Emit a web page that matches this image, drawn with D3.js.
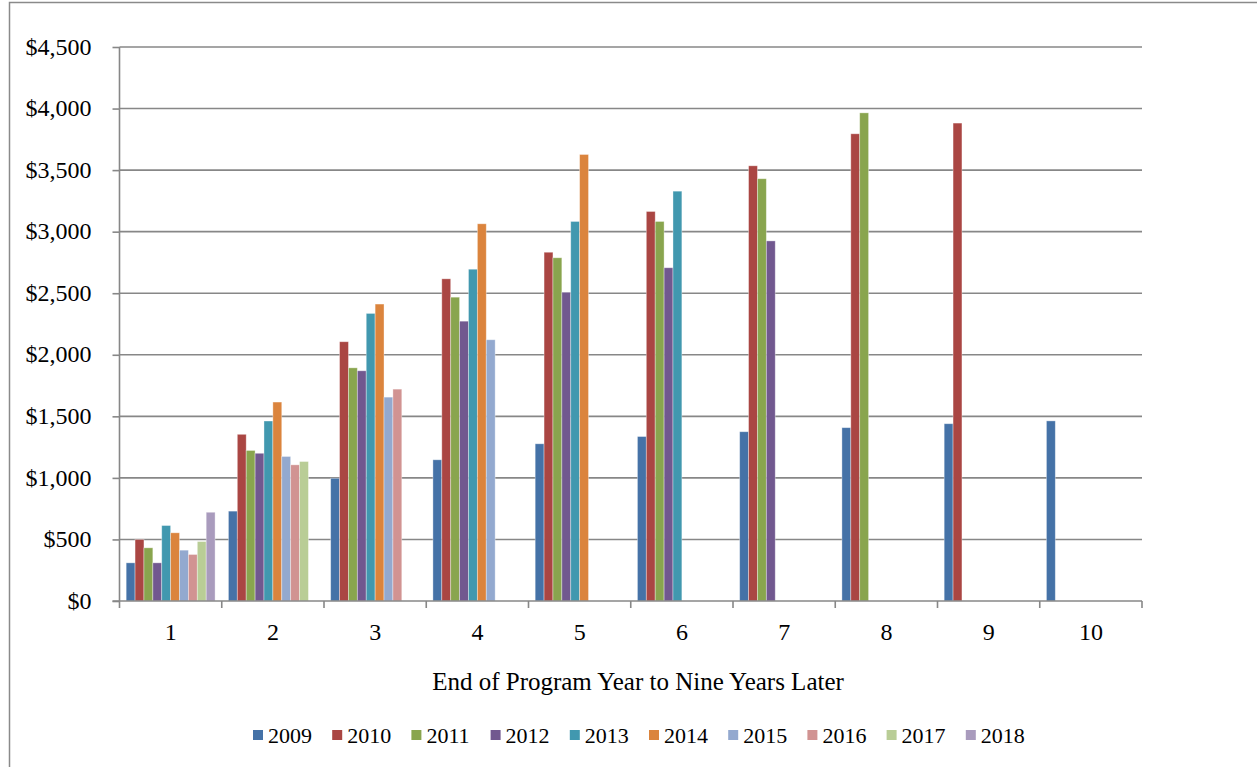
<!DOCTYPE html>
<html>
<head>
<meta charset="utf-8">
<script src="https://cdn.jsdelivr.net/npm/d3@7"></script>
<style>
  html, body { margin: 0; padding: 0; background: #fff; }
  svg { display: block; }
  text { font-family: "Liberation Serif", "Times New Roman", serif; fill: #000; }
</style>
</head>
<body>
<svg id="chart" width="1257" height="767"></svg>
<script>
// Program years since end of program (x categories)
const categories = ["1", "2", "3", "4", "5", "6", "7", "8", "9", "10"];

// Cohort series (one value per category, null where no data yet)
const seriesNames = ["2009", "2010", "2011", "2012", "2013", "2014", "2015", "2016", "2017", "2018"];
const v2009 = [310, 730, 997, 1147, 1277, 1336, 1375, 1408, 1440, 1463];
const v2010 = [500, 1354, 2106, 2617, 2833, 3164, 3535, 3795, 3882, null];
const v2011 = [432, 1223, 1894, 2468, 2788, 3083, 3430, 3965, null, null];
const v2012 = [310, 1200, 1870, 2273, 2508, 2707, 2925, null, null, null];
const v2013 = [613, 1462, 2336, 2695, 3083, 3329, null, null, null, null];
const v2014 = [554, 1616, 2412, 3064, 3627, null, null, null, null, null];
const v2015 = [413, 1174, 1656, 2122, null, null, null, null, null, null];
const v2016 = [378, 1106, 1721, null, null, null, null, null, null, null];
const v2017 = [483, 1133, null, null, null, null, null, null, null, null];
const v2018 = [721, null, null, null, null, null, null, null, null, null];
const seriesValues = [v2009, v2010, v2011, v2012, v2013, v2014, v2015, v2016, v2017, v2018];
const seriesColors = ["#4572A7", "#AA4643", "#89A54E", "#71588F", "#4198AF",
                      "#DB843D", "#93A9CF", "#D19392", "#B9CD96", "#A99BBD"];

const yTicks = [0, 500, 1000, 1500, 2000, 2500, 3000, 3500, 4000, 4500];
const xTitle = "End of Program Year to Nine Years Later";

const svg = d3.select("#chart");
const serif = '"Liberation Serif", "Times New Roman", serif';
const gridColor = "#878787";

// Outer frame
svg.append("rect")
  .attr("x", 9.5).attr("y", 2.5)
  .attr("width", 1300).attr("height", 800)
  .attr("fill", "none").attr("stroke", "#8a8a8a").attr("stroke-width", 1.5);

const plot = { left: 119.5, right: 1142, top: 47, bottom: 601 };

const x = d3.scaleBand().domain(categories).range([plot.left, plot.right]).padding(0);
const xs = d3.scaleBand().domain(seriesNames).range([0, x.bandwidth()])
  .paddingInner(0).paddingOuter(0.75);
const y = d3.scaleLinear().domain([0, 4500]).range([plot.bottom, plot.top]);

// Horizontal gridlines
svg.append("g").selectAll("line")
  .data(yTicks.filter(d => d > 0))
  .join("line")
  .attr("x1", plot.left).attr("x2", plot.right)
  .attr("y1", d => y(d)).attr("y2", d => y(d))
  .attr("stroke", gridColor).attr("stroke-width", 1.6);

// Y axis
const yAxis = d3.axisLeft(y).tickValues(yTicks).tickSize(7)
  .tickFormat(d => "$" + d3.format(",")(d));
const gy = svg.append("g").attr("transform", `translate(${plot.left},0)`).call(yAxis);
gy.attr("font-family", serif);
gy.select(".domain").attr("stroke", gridColor).attr("stroke-width", 1.6)
  .attr("d", `M0,${plot.top}V${plot.bottom}`);
gy.selectAll(".tick line").attr("stroke", gridColor).attr("stroke-width", 1.6);
gy.selectAll(".tick text")
  .attr("x", -28).attr("dy", "0.3em")
  .style("font-size", "24px")
  .attr("fill", "#000");

// Bars
const groups = svg.append("g").selectAll("g")
  .data(seriesNames)
  .join("g")
  .attr("fill", (d, i) => seriesColors[i]);

groups.selectAll("rect")
  .data((name, i) => categories.map((c, j) => ({ cat: c, name, v: seriesValues[i][j] }))
    .filter(d => d.v != null))
  .join("rect")
  .attr("x", d => x(d.cat) + xs(d.name))
  .attr("width", xs.bandwidth())
  .attr("y", d => y(d.v))
  .attr("height", d => y(0) - y(d.v))
  .attr("stroke", "#ffffff").attr("stroke-opacity", 0.45).attr("stroke-width", 0.8);

// X axis line and category-boundary ticks
svg.append("line")
  .attr("x1", plot.left - 7).attr("x2", plot.right)
  .attr("y1", plot.bottom).attr("y2", plot.bottom)
  .attr("stroke", gridColor).attr("stroke-width", 1.6);
const bounds = categories.map(c => x(c)).concat([plot.right]);
svg.append("g").selectAll("line")
  .data(bounds)
  .join("line")
  .attr("x1", d => d).attr("x2", d => d)
  .attr("y1", plot.bottom).attr("y2", plot.bottom + 7)
  .attr("stroke", gridColor).attr("stroke-width", 1.6);

// Category labels
svg.append("g").selectAll("text")
  .data(categories)
  .join("text")
  .attr("x", d => x(d) + x.bandwidth() / 2)
  .attr("y", 640)
  .attr("text-anchor", "middle")
  .style("font-size", "24px")
  .text(d => d);

// Axis title
svg.append("text")
  .attr("x", 638).attr("y", 690)
  .attr("text-anchor", "middle")
  .style("font-size", "25px")
  .text(xTitle);

// Legend
const legend = svg.append("g").selectAll("g")
  .data(seriesNames)
  .join("g")
  .attr("transform", (d, i) => `translate(${253 + i * 79.2},0)`);
legend.append("rect")
  .attr("x", 0).attr("y", 730).attr("width", 10).attr("height", 10)
  .attr("fill", (d, i) => seriesColors[i]);
legend.append("text")
  .attr("x", 15).attr("y", 743)
  .style("font-size", "22px")
  .text(d => d);
</script>
</body>
</html>
